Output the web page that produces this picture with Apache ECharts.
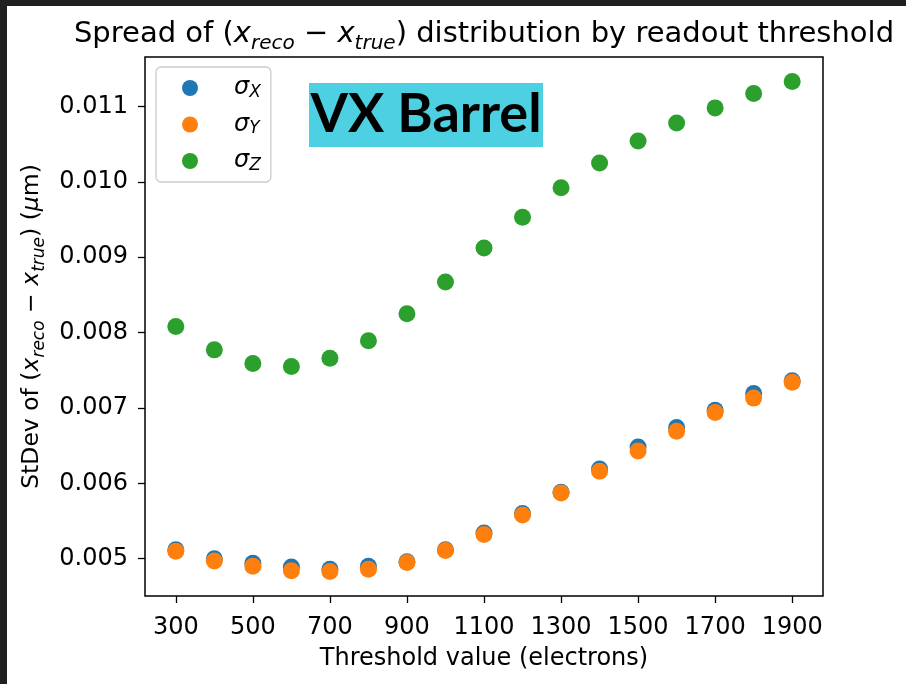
<!DOCTYPE html>
<html>
<head>
<meta charset="utf-8">
<script src="https://cdn.jsdelivr.net/npm/echarts@6/dist/echarts.min.js"></script>
<style>
html,body{margin:0;padding:0;background:#fff;}
#chart{width:906px;height:684px;}
</style>
</head>
<body>
<div id="chart"></div>
<script>
// ---- data ----
const thresholds = [300, 400, 500, 600, 700, 800, 900, 1000, 1100, 1200, 1300, 1400, 1500, 1600, 1700, 1800, 1900];
const sigmaX = [0.00512, 0.00500, 0.00494, 0.00489, 0.00486, 0.00490, 0.00496, 0.00512, 0.00534, 0.00560, 0.00588, 0.00619, 0.00648, 0.00674, 0.00697, 0.00719, 0.00736];
const sigmaY = [0.00510, 0.00497, 0.00490, 0.00484, 0.00483, 0.00486, 0.00495, 0.00511, 0.00532, 0.00558, 0.00587, 0.00616, 0.00643, 0.00669, 0.00694, 0.00713, 0.00734];
const sigmaZ = [0.00808, 0.00777, 0.00759, 0.00755, 0.00766, 0.00789, 0.00825, 0.00867, 0.00912, 0.00953, 0.00992, 0.01025, 0.01054, 0.01078, 0.01098, 0.01117, 0.01133];
const xTicks = [300, 500, 700, 900, 1100, 1300, 1500, 1700, 1900];
const yTicks = [0.005, 0.006, 0.007, 0.008, 0.009, 0.010, 0.011];
const seriesNames = ['sX', 'sY', 'sZ'];
const legendLabels = {sX: 'X', sY: 'Y', sZ: 'Z'};
const titleText = 'Spread of ';
const xName = 'Threshold value (electrons)';
const badgeText = 'VX Barrel';

const FONT = 'DejaVu Sans';
const colors = ['#1f77b4', '#ff7f0e', '#2ca02c'];

function pairs(vals) { return thresholds.map((t, i) => [t, vals[i]]); }

function mathRich(F, S, L) {
  return {
    n: {fontFamily: FONT, fontSize: F, color: '#000', lineHeight: L, verticalAlign: 'middle'},
    i: {fontFamily: FONT, fontSize: F, fontStyle: 'italic', color: '#000', lineHeight: L, verticalAlign: 'middle'},
    s: {fontFamily: FONT, fontSize: S, fontStyle: 'italic', color: '#000', lineHeight: L, verticalAlign: 'bottom'}
  };
}

const chart = echarts.init(document.getElementById('chart'), null, {renderer: 'canvas'});
const option = {
  backgroundColor: '#ffffff',
  animation: false,
  grid: {left: 145, top: 57, right: 83, bottom: 88, show: true, borderColor: '#000', borderWidth: 1.5, backgroundColor: 'transparent', outerBoundsMode: 'none'},
  xAxis: {
    type: 'value', min: 220, max: 1980,
    name: xName, nameLocation: 'middle', nameGap: 51,
    nameTextStyle: {fontFamily: FONT, fontSize: 24, color: '#000'},
    axisLine: {show: false},
    axisTick: {show: true, length: 7, lineStyle: {color: '#000', width: 1.3}, customValues: xTicks},
    axisLabel: {fontFamily: FONT, fontSize: 24, color: '#000', margin: 20, customValues: xTicks, formatter: v => String(v)},
    splitLine: {show: false}
  },
  yAxis: {
    type: 'value', min: 0.004505, max: 0.011655,
    name: '{n|StDev of (}{i|x}{s|reco}{n| − }{i|x}{s|true}{n|) (}{i|μ}{n|m)}',
    nameLocation: 'middle', nameGap: 96, nameRotate: 90,
    nameTextStyle: {rich: mathRich(23.5, 17, 34)},
    axisLine: {show: false},
    axisTick: {show: true, length: 7, lineStyle: {color: '#000', width: 1.3}, customValues: yTicks},
    axisLabel: {fontFamily: FONT, fontSize: 24, color: '#000', margin: 17, customValues: yTicks, formatter: v => v.toFixed(3)},
    splitLine: {show: false}
  },
  legend: {
    data: seriesNames,
    orient: 'vertical', left: 156, top: 67,
    padding: [9, 10, 8, 26],
    itemWidth: 64, itemHeight: 16, itemGap: 11.5,
    icon: 'circle',
    backgroundColor: 'rgba(255,255,255,0.8)',
    borderColor: '#cccccc', borderWidth: 1.3, borderRadius: 5,
    formatter: name => '{s|σ}{b|' + legendLabels[name] + '}',
    textStyle: {
      rich: {
        s: {fontFamily: FONT, fontSize: 24, fontStyle: 'italic', color: '#000', lineHeight: 26, verticalAlign: 'middle', padding: [0, 0, 0, 7]},
        b: {fontFamily: FONT, fontSize: 17, fontStyle: 'italic', color: '#000', lineHeight: 26, verticalAlign: 'bottom'}
      }
    }
  },
  graphic: [
    {type: 'rect', z: 100, shape: {x: 0, y: 0, width: 906, height: 6}, style: {fill: '#202020'}},
    {type: 'rect', z: 100, shape: {x: 0, y: 0, width: 7, height: 684}, style: {fill: '#202020'}},
    {type: 'text', z: 50, x: 484, y: 34,
      style: {
        text: '{n|' + titleText + '(}{i|x}{s|reco}{n| − }{i|x}{s|true}{n|) distribution by readout threshold}',
        textAlign: 'center', textVerticalAlign: 'middle',
        rich: mathRich(29, 20, 40)
      }
    },
    {type: 'rect', z: 50, shape: {x: 309, y: 83, width: 234, height: 64}, style: {fill: '#4dd0e1'}},
    {type: 'text', z: 51, x: 426, y: 115,
      style: {text: badgeText, fontFamily: 'Lato', fontWeight: 'bold', fontSize: 54, fill: '#000', textAlign: 'center', textVerticalAlign: 'middle'}
    }
  ],
  series: [
    {name: 'sX', type: 'scatter', data: pairs(sigmaX), symbol: 'circle', symbolSize: 17, itemStyle: {color: colors[0], opacity: 1}, z: 2},
    {name: 'sY', type: 'scatter', data: pairs(sigmaY), symbol: 'circle', symbolSize: 17, itemStyle: {color: colors[1], opacity: 1}, z: 3},
    {name: 'sZ', type: 'scatter', data: pairs(sigmaZ), symbol: 'circle', symbolSize: 17, itemStyle: {color: colors[2], opacity: 1}, z: 4}
  ]
};
chart.setOption(option);
</script>
</body>
</html>
